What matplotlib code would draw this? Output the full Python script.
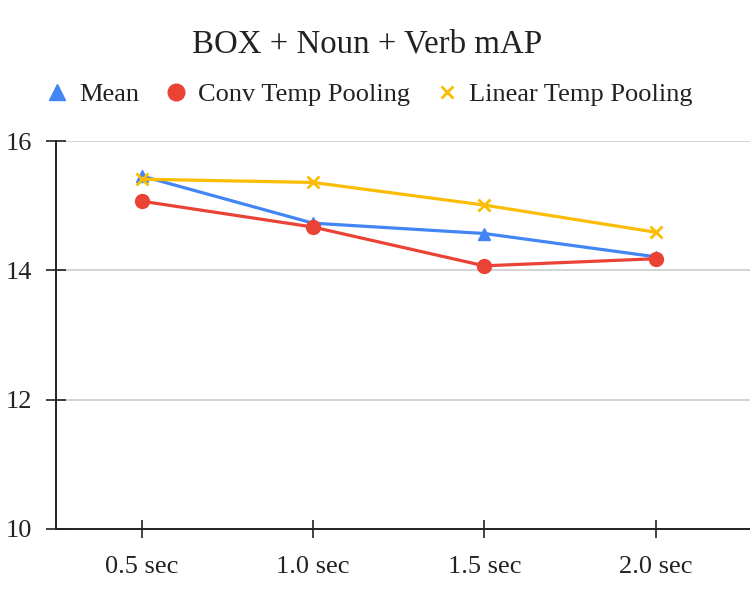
import matplotlib
matplotlib.use('Agg')
import matplotlib.pyplot as plt

# values
categories = ['0.5 sec', '1.0 sec', '1.5 sec', '2.0 sec']
mean_vals = [15.46, 14.73, 14.57, 14.21]
conv_vals = [15.07, 14.67, 14.07, 14.18]
linear_vals = [15.41, 15.36, 15.01, 14.59]
y_ticks = [10, 12, 14, 16]

plt.rcParams['font.family'] = ['Liberation Serif', 'DejaVu Serif']

fig = plt.figure(figsize=(7.5, 6.08), dpi=100)
ax = fig.add_axes([0.0747, 0.13, 0.925, 0.638])

x = list(range(len(categories)))

ax.plot(x, mean_vals, color='#4285F4', lw=2.3, marker='^', ms=9,
        label='Mean', zorder=3)
ax.plot(x, conv_vals, color='#EA4335', lw=2.3, marker='o', ms=10,
        label='Conv Temp Pooling', zorder=4)
ax.plot(x, linear_vals, color='#FBBC04', lw=2.3, marker='x', ms=9, mew=2,
        label='Linear Temp Pooling', zorder=5)

ax.set_xlim(-0.5, 3.55)
ax.set_ylim(10, 16)
ax.set_xticks(x)
ax.set_xticklabels(categories)
ax.set_yticks(y_ticks)

ax.grid(axis='y', color='#cccccc', lw=1.2)
ax.set_axisbelow(True)

for side in ['top', 'right']:
    ax.spines[side].set_visible(False)
ax.spines['left'].set_color('#222222')
ax.spines['bottom'].set_color('#222222')
ax.spines['left'].set_linewidth(1.4)
ax.spines['bottom'].set_linewidth(1.4)

ax.tick_params(axis='x', direction='inout', length=13, width=1.2,
               colors='#222222', labelsize=19, pad=13)
ax.tick_params(axis='y', direction='inout', length=14, width=1.2,
               colors='#222222', labelsize=19, pad=10)

fig.text(0.49, 0.928, 'BOX + Noun + Verb mAP', ha='center', va='center',
         fontsize=23.7, color='#222222')

fig.legend(loc='center', bbox_to_anchor=(0.493, 0.845), ncol=3,
           frameon=False, fontsize=19, handlelength=0.8,
           handletextpad=0.43, columnspacing=1.0,
           labelcolor='#222222')
# legend shows markers only
leg_sizes = [11, 12, 9]
for h, s in zip(fig.legends[0].legend_handles, leg_sizes):
    h.set_linestyle('none')
    h.set_markersize(s)

fig.savefig('out.png', dpi=100)
